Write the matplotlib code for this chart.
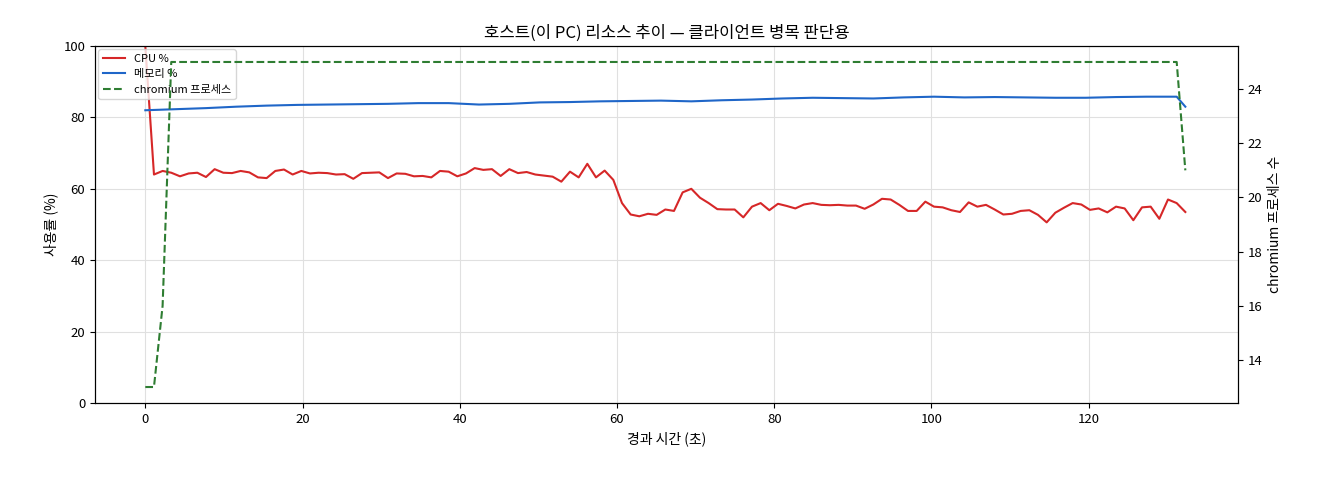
import numpy as np
import matplotlib
matplotlib.use("Agg")
import matplotlib.pyplot as plt
plt.rcParams['font.family'] = ['Noto Sans CJK KR', 'DejaVu Sans']

cpu = [100, 64, 65, 64.5, 63.5, 64.3, 64.5, 63.3, 65.5, 64.5, 64.4, 65, 64.6, 63.2, 63, 65, 65.4, 64, 65, 64.3,
       64.5, 64.4, 64, 64.1, 62.8, 64.4, 64.5, 64.6, 63, 64.3, 64.2, 63.5, 63.6, 63.2, 65, 64.8, 63.5, 64.3, 65.8, 65.3,
       65.5, 63.6, 65.5, 64.4, 64.7, 64, 63.7, 63.4, 62, 64.8, 63.2, 67, 63.2, 65.1, 62.5, 56, 52.8, 52.3, 53, 52.7,
       54.2, 53.8, 59, 60, 57.5, 56, 54.3, 54.2, 54.2, 52, 55, 56, 54, 55.8, 55.2, 54.5, 55.6, 56, 55.5, 55.4,
       55.5, 55.3, 55.3, 54.4, 55.6, 57.2, 57, 55.5, 53.8, 53.8, 56.4, 55, 54.8, 54, 53.5, 56.2, 55, 55.5, 54.2, 52.8,
       53, 53.8, 54, 52.7, 50.6, 53.3, 54.7, 56, 55.6, 54.1, 54.5, 53.4, 55, 54.5, 51.2, 54.8, 55, 51.6, 57, 56, 53.5]
mem = [82, 82.3, 82.6, 83, 83.3, 83.5, 83.6, 83.7, 83.8, 84, 84, 83.6, 83.8, 84.2, 84.3, 84.5, 84.6, 84.7, 84.5,
       84.8, 85, 85.3, 85.5, 85.4, 85.3, 85.6, 85.8, 85.6, 85.7, 85.6, 85.5, 85.5, 85.7, 85.8, 85.8, 83]
proc_t = [0, 1.1, 2.2, 3.3, 131.2, 132.3]
proc = [13, 13, 16, 25, 25, 21]
t_end = 132.3

cpu_t = np.linspace(0, t_end, len(cpu))
mem_t = np.append(np.linspace(0, 131.2, len(mem) - 1), t_end)

fig = plt.figure(figsize=(13.2, 4.8), dpi=100)
ax = fig.add_axes([95/1320, 1-403/480, (1238-95)/1320, (403-46)/480])
l1, = ax.plot(cpu_t, cpu, color='#d62728', lw=1.5, label='CPU %')
l2, = ax.plot(mem_t, mem, color='#1f66c8', lw=1.5, label='메모리 %')
ax.set_ylim(0, 100)
ax.set_xlim(-6.4, 139)
ax.grid(True, color='#e0e0e0', lw=0.8)
ax.tick_params(labelsize=9.5)
ax.set_xlabel('경과 시간 (초)', fontsize=10)
ax.set_ylabel('사용률 (%)', fontsize=10)
ax.set_title('호스트(이 PC) 리소스 추이 — 클라이언트 병목 판단용', fontsize=12)
ax2 = ax.twinx()
l3, = ax2.plot(proc_t, proc, color='#2e7d32', lw=1.5, ls='--', label='chromium 프로세스')
ax2.set_ylim(12.41, 25.59)
ax2.tick_params(labelsize=9.5)
ax2.set_ylabel('chromium 프로세스 수', fontsize=10)
ax.legend(handles=[l1, l2, l3], loc='upper left', fontsize=8, borderaxespad=0.3)
fig.savefig('out.png')
